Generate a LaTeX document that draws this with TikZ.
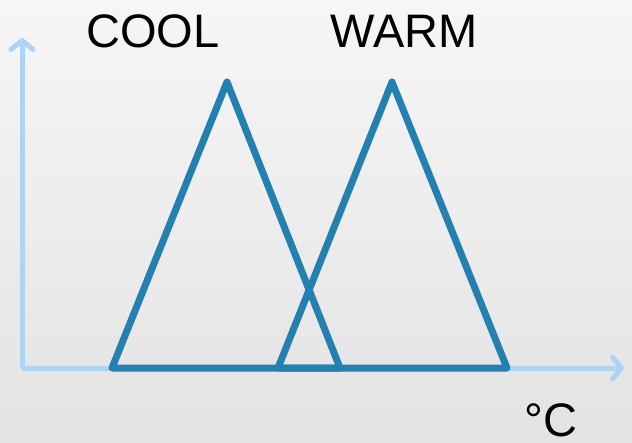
\documentclass[tikz,border=0pt]{standalone}
\usepackage{fontspec}
\setmainfont{Liberation Sans}
\usetikzlibrary{arrows.meta}
\definecolor{axisblue}{HTML}{AED4F5}
\definecolor{setblue}{HTML}{2480B0}
\begin{document}
\begin{tikzpicture}[x=1pt, y=-1pt, >={Straight Barb[length=9pt,width=22pt,round]},
	axis/.style={line width=5pt, axisblue},
	mf/.style={line width=7pt, setblue, line join=round, line cap=round},
	lbl/.style={font=\fontsize{47}{50}\selectfont, inner sep=0pt}]
	% 1. 背景
	\shade[top color=gray!7, bottom color=gray!22] (0,0) rectangle (632,442);
	\useasboundingbox (0,0) rectangle (632,442);
	
	% 2. 坐标轴
	\coordinate (O) at (22,368);
	\draw[axis, ->] (O) -- (22,38);
	\draw[axis, ->] (O) -- (624,368);
	
	% 3. 隶属函数
	\draw[mf] (112,368) -- (227,82) -- (340,368) -- cycle;
	\draw[mf] (278,368) -- (392,82) -- (507,368) -- cycle;
	
	% 4. 标签
	\node[lbl] (cool) at (153,31) {COOL};
	\node[lbl] (warm) at (404,31) {WARM};
	\node[lbl] (unit) at (551,420) {°C};
\end{tikzpicture}
\end{document}
